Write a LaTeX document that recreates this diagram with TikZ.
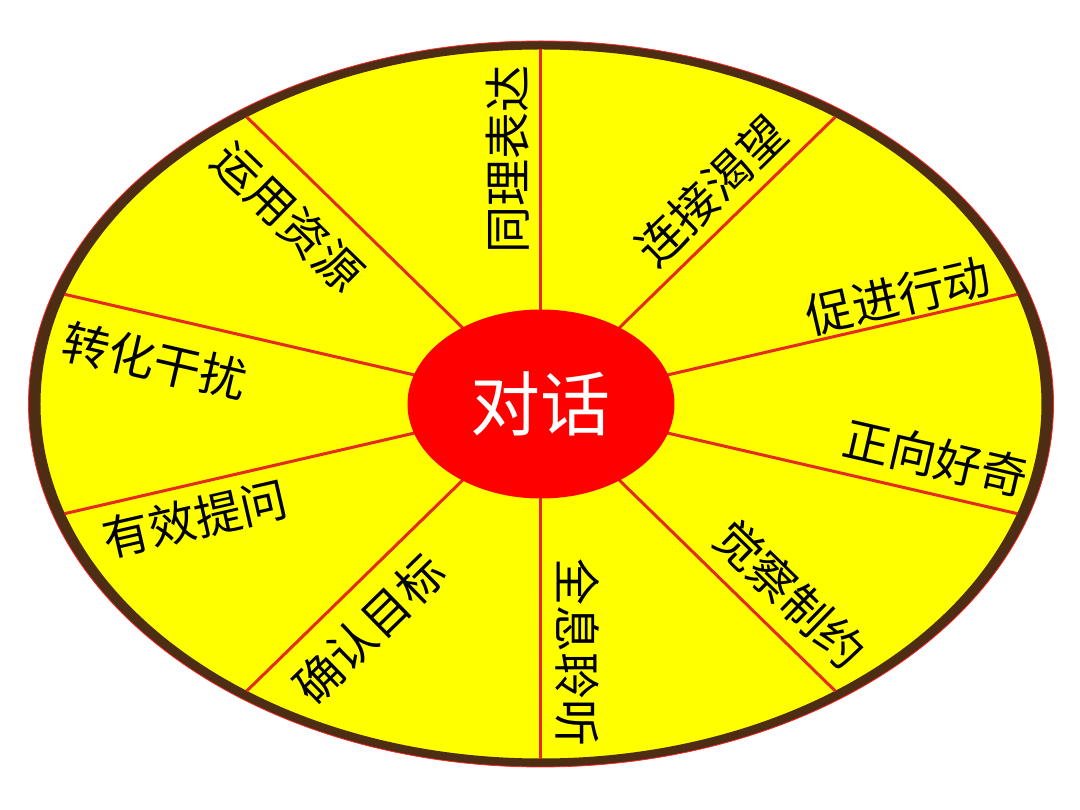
\documentclass[tikz,border=0pt]{standalone}
\usepackage{fontspec}
\newfontfamily\cjk{Noto Sans CJK SC}
\usetikzlibrary{shapes.geometric}
\definecolor{ringbrown}{HTML}{4D2D14}
\definecolor{spokered}{HTML}{E52B1F}
\definecolor{hubred}{HTML}{FF0000}
\definecolor{fieldyellow}{HTML}{FFFF00}
\begin{document}
\begin{tikzpicture}[x=1pt,y=1pt,
  lbl/.style={font=\cjk\fontsize{47}{56}\selectfont, inner sep=0pt, text=black},
  spoke/.style={draw=spokered, line width=3pt}]
\useasboundingbox (-541,-406) rectangle (539,404);
\fill[white] (-541,-406) rectangle (539,404);
% field and ring
\fill[fieldyellow] (0,0) ellipse [x radius=506pt, y radius=359pt];
\fill[ringbrown, even odd rule] (0,0) ellipse [x radius=512.5pt, y radius=363pt]
                                (0,0) ellipse [x radius=500.5pt, y radius=354.5pt];
\draw[red!85!white, line width=0.8pt] (0,0) ellipse [x radius=512.5pt, y radius=363pt];
% spokes
\foreach \t [count=\i] in {90,54,18,-18,-54,-90,-126,-162,162,126} {
  \coordinate (in\i) at ({133*cos(\t)},{94*sin(\t)});
  \coordinate (out\i) at ({501*cos(\t)},{355*sin(\t)});
}
\foreach \i in {1,...,10} \draw[spoke] (in\i) -- (out\i);
% hub
\node[ellipse, fill=hubred, minimum width=267pt, minimum height=189pt, inner sep=0pt,
      text=white, font=\cjk\fontsize{70}{82}\selectfont] (hub) at (0,0) {对话};
% labels
\node[lbl, rotate=90]    (l1)  at (-33, 244)  {同理表达};
\node[lbl, rotate=44.3]  (l2)  at (170, 213)  {连接渴望};
\node[lbl, rotate=13]    (l3)  at (357, 108)  {促进行动};
\node[lbl, rotate=-13]   (l4)  at (395, -54)  {正向好奇};
\node[lbl, rotate=-44.3] (l5)  at (249, -190) {觉察制约};
\node[lbl, rotate=-90]   (l6)  at (37, -249)  {全息聆听};
\node[lbl, rotate=44.3]  (l7)  at (-172, -225) {确认目标};
\node[lbl, rotate=13]    (l8)  at (-346, -115) {有效提问};
\node[lbl, rotate=-13]   (l9)  at (-386, 43)  {转化干扰};
\node[lbl, rotate=-44.3] (l10) at (-253, 187) {运用资源};
\end{tikzpicture}
\end{document}
